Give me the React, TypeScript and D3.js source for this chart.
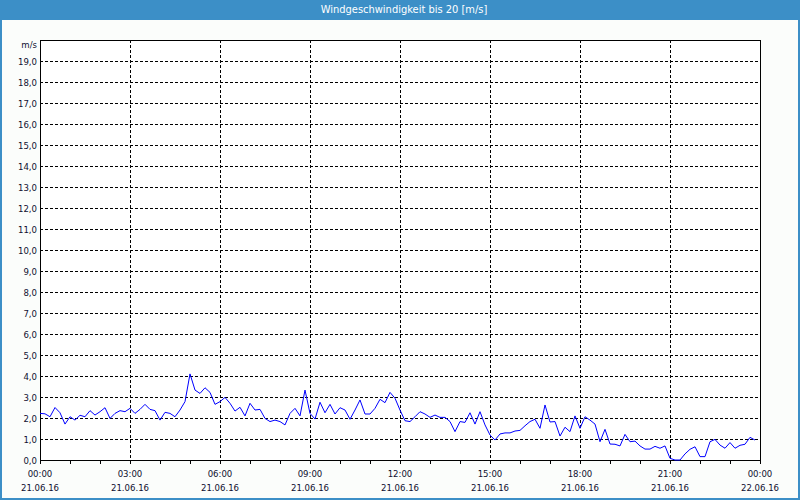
import React from "react";
import * as d3 from "d3";

const title = "Windgeschwindigkeit bis 20 [m/s]";
const unitLabel = "m/s";
const stepMinutes = 10;
// wind speed in m/s, one value every 10 minutes starting 21.06.16 00:00
const speeds: number[] = [
  2.22, 2.2, 2.06, 2.5, 2.25, 1.71, 2.06, 1.9, 2.13, 2.06, 2.35, 2.14,
  2.3, 2.49, 1.98, 2.22, 2.35, 2.3, 2.46, 2.22, 2.41, 2.65, 2.41, 2.35,
  1.9, 2.27, 2.22, 2.06, 2.38, 2.78, 4.1, 3.33, 3.17, 3.44, 3.22, 2.65,
  2.78, 2.98, 2.7, 2.33, 2.51, 2.1, 2.7, 2.38, 2.41, 1.98, 1.83, 1.9,
  1.83, 1.67, 2.22, 2.46, 2.1, 3.33, 2.22, 1.95, 2.75, 2.25, 2.65, 2.19,
  2.49, 2.38, 1.94, 2.38, 2.86, 2.19, 2.19, 2.46, 2.89, 2.73, 3.22, 2.94,
  2.38, 1.87, 1.83, 2.06, 2.3, 2.19, 2.03, 2.14, 2.03, 2.03, 1.83, 1.35,
  1.83, 1.79, 2.25, 1.71, 2.3, 1.67, 1.19, 0.95, 1.24, 1.29, 1.29, 1.38,
  1.41, 1.63, 1.83, 1.94, 1.51, 2.62, 1.81, 1.83, 1.14, 1.56, 1.35, 2.1,
  1.51, 2.06, 1.9, 1.71, 0.87, 1.46, 0.76, 0.75, 0.67, 1.22, 0.87, 0.9,
  0.67, 0.52, 0.52, 0.65, 0.56, 0.67, 0.08, 0, 0, 0.29, 0.51, 0.63,
  0.16, 0.16, 0.87, 0.98, 0.71, 0.56, 0.83, 0.56, 0.7, 0.75, 1.08, 0.95,
];
const xTickMinutes = [0, 180, 360, 540, 720, 900, 1080, 1260, 1440];
const xTimeLabels = ["00:00", "03:00", "06:00", "09:00", "12:00", "15:00", "18:00", "21:00", "00:00"];
const xDateLabels = ["21.06.16", "21.06.16", "21.06.16", "21.06.16", "21.06.16", "21.06.16", "21.06.16", "21.06.16", "22.06.16"];
const yTicks = d3.range(0, 20, 1);

const W = 800;
const H = 500;
const M = { left: 40, right: 760, top: 40, bottom: 460 };
const FONT = "'DejaVu Sans Condensed', 'DejaVu Sans', sans-serif";

export default function App() {
  const x = d3.scaleLinear().domain([0, 1440]).range([M.left, M.right]);
  const y = d3.scaleLinear().domain([0, 20]).range([M.bottom, M.top]);
  const line = d3
    .line<number>()
    .x((_, i) => x(i * stepMinutes))
    .y((d) => y(d));
  const hourTicks = d3.range(0, 1441, 60);

  return (
    <svg
      width={W}
      height={H}
      style={{ position: "absolute", left: 0, top: 0, display: "block" }}
      fontFamily={FONT}
    >
      <rect x={0} y={0} width={W} height={H} fill="#fbfdfb" />
      <rect x={0} y={0} width={W} height={20} fill="#3c8fc7" />
      <rect x={1} y={1} width={W - 2} height={H - 2} fill="none" stroke="#3c8fc7" strokeWidth={2} />
      <text x={W / 2 + 4} y={13} fill="#ffffff" fontSize={11} textAnchor="middle">
        {title}
      </text>
      <rect x={M.left} y={M.top} width={M.right - M.left} height={M.bottom - M.top} fill="#ffffff" />

      <g shapeRendering="crispEdges">
        {yTicks
          .filter((t) => t > 0)
          .map((t) => (
            <line
              key={"h" + t}
              x1={M.left}
              x2={M.right}
              y1={Math.round(y(t)) + 0.5}
              y2={Math.round(y(t)) + 0.5}
              stroke="#000"
              strokeDasharray="3,2"
            />
          ))}
        {xTickMinutes.slice(1, -1).map((m) => (
          <line
            key={"v" + m}
            x1={Math.round(x(m)) + 0.5}
            x2={Math.round(x(m)) + 0.5}
            y1={M.top}
            y2={M.bottom}
            stroke="#000"
            strokeDasharray="3,2"
          />
        ))}
        {hourTicks.map((m) => (
          <line
            key={"t" + m}
            x1={Math.round(x(m)) + 0.5}
            x2={Math.round(x(m)) + 0.5}
            y1={M.bottom}
            y2={M.bottom + 4}
            stroke="#000"
          />
        ))}
        <rect
          x={M.left + 0.5}
          y={M.top + 0.5}
          width={M.right - M.left}
          height={M.bottom - M.top}
          fill="none"
          stroke="#000"
        />
      </g>

      <path d={line(speeds) || ""} fill="none" stroke="#0000ff" strokeWidth={1} />

      <g fontSize={9.5} fill="#101030" textAnchor="end">
        {yTicks.map((t) => (
          <text key={"yl" + t} x={37} y={y(t) + 3.5}>
            {t.toFixed(1).replace(".", ",")}
          </text>
        ))}
        <text x={37} y={48}>
          {unitLabel}
        </text>
      </g>

      <g fontSize={9.5} fill="#101030" textAnchor="middle">
        {xTickMinutes.map((m, i) => (
          <g key={"xl" + i}>
            <text x={x(m)} y={477}>
              {xTimeLabels[i]}
            </text>
            <text x={x(m)} y={491}>
              {xDateLabels[i]}
            </text>
          </g>
        ))}
      </g>
    </svg>
  );
}
